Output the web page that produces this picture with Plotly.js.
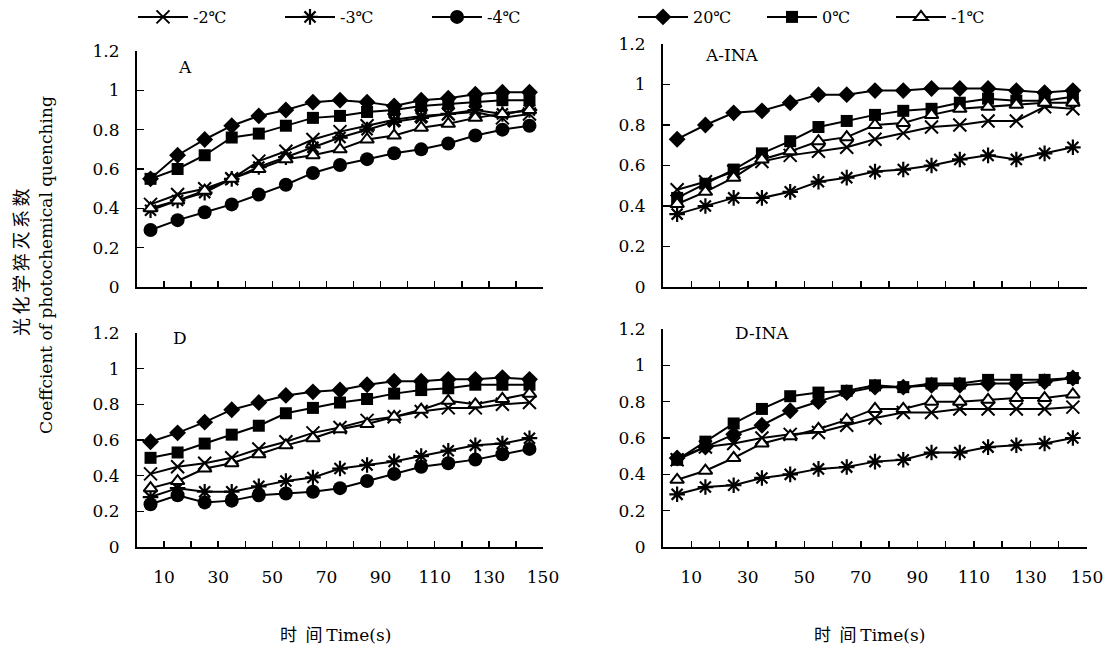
<!DOCTYPE html>
<html><head><meta charset="utf-8">
<script src="https://cdn.plot.ly/plotly-3.0.1.min.js"></script>
<style>body{margin:0;background:#fff}</style>
</head><body><div id="chart" style="width:1114px;height:648px"></div>
<script>
// ---- data ----
const time = [5, 15, 25, 35, 45, 55, 65, 75, 85, 95, 105, 115, 125, 135, 145];
const xTickVals = [10, 30, 50, 70, 90, 110, 130, 150];
const xTickLabels = ['10', '30', '50', '70', '90', '110', '130', '150'];
const seriesNames = ['-2℃', '-3℃', '-4℃', '20℃', '0℃', '-1℃'];
const panelLabels = ['A', 'A-INA', 'D', 'D-INA'];

// Panel A
const A_m2 = [0.42, 0.47, 0.50, 0.55, 0.64, 0.69, 0.75, 0.79, 0.82, 0.85, 0.87, 0.88, 0.89, 0.86, 0.88];
const A_m3 = [0.39, 0.44, 0.48, 0.55, 0.61, 0.66, 0.71, 0.76, 0.80, 0.84, 0.86, 0.88, 0.90, 0.88, 0.90];
const A_m4 = [0.29, 0.34, 0.38, 0.42, 0.47, 0.52, 0.58, 0.62, 0.65, 0.68, 0.70, 0.73, 0.77, 0.80, 0.82];
const A_20 = [0.55, 0.67, 0.75, 0.82, 0.87, 0.90, 0.94, 0.95, 0.94, 0.92, 0.95, 0.96, 0.98, 0.99, 0.99];
const A_0  = [0.55, 0.60, 0.67, 0.76, 0.78, 0.82, 0.86, 0.87, 0.89, 0.90, 0.92, 0.93, 0.94, 0.95, 0.95];
const A_m1 = [0.40, 0.44, 0.49, 0.55, 0.60, 0.65, 0.67, 0.70, 0.75, 0.77, 0.81, 0.83, 0.86, 0.88, 0.90];

// Panel A-INA
const AI_m2 = [0.48, 0.52, 0.57, 0.62, 0.65, 0.67, 0.69, 0.73, 0.76, 0.79, 0.80, 0.82, 0.82, 0.89, 0.88];
const AI_m3 = [0.36, 0.40, 0.44, 0.44, 0.47, 0.52, 0.54, 0.57, 0.58, 0.60, 0.63, 0.65, 0.63, 0.66, 0.69];
const AI_20 = [0.73, 0.80, 0.86, 0.87, 0.91, 0.95, 0.95, 0.97, 0.97, 0.98, 0.98, 0.98, 0.97, 0.96, 0.97];
const AI_0  = [0.44, 0.51, 0.58, 0.66, 0.72, 0.79, 0.82, 0.85, 0.87, 0.88, 0.91, 0.93, 0.92, 0.92, 0.94];
const AI_m1 = [0.41, 0.47, 0.54, 0.63, 0.67, 0.72, 0.74, 0.80, 0.81, 0.85, 0.88, 0.89, 0.90, 0.91, 0.91];

// Panel D
const D_m2 = [0.41, 0.45, 0.47, 0.50, 0.55, 0.59, 0.64, 0.67, 0.71, 0.73, 0.76, 0.78, 0.78, 0.80, 0.81];
const D_m3 = [0.28, 0.33, 0.31, 0.31, 0.34, 0.37, 0.39, 0.44, 0.46, 0.48, 0.51, 0.54, 0.57, 0.58, 0.61];
const D_m4 = [0.24, 0.29, 0.25, 0.26, 0.29, 0.30, 0.31, 0.33, 0.37, 0.41, 0.45, 0.47, 0.49, 0.52, 0.55];
const D_20 = [0.59, 0.64, 0.70, 0.77, 0.81, 0.85, 0.87, 0.88, 0.91, 0.93, 0.93, 0.94, 0.94, 0.95, 0.94];
const D_0  = [0.50, 0.53, 0.58, 0.63, 0.68, 0.75, 0.78, 0.81, 0.83, 0.86, 0.88, 0.89, 0.91, 0.91, 0.91];
const D_m1 = [0.33, 0.37, 0.44, 0.47, 0.52, 0.57, 0.61, 0.66, 0.69, 0.73, 0.77, 0.82, 0.80, 0.83, 0.86];

// Panel D-INA
const DI_m2 = [0.48, 0.55, 0.57, 0.60, 0.62, 0.63, 0.67, 0.71, 0.74, 0.74, 0.76, 0.76, 0.76, 0.76, 0.77];
const DI_m3 = [0.29, 0.33, 0.34, 0.38, 0.40, 0.43, 0.44, 0.47, 0.48, 0.52, 0.52, 0.55, 0.56, 0.57, 0.60];
const DI_20 = [0.49, 0.55, 0.62, 0.67, 0.75, 0.80, 0.85, 0.88, 0.88, 0.89, 0.89, 0.90, 0.90, 0.91, 0.93];
const DI_0  = [0.48, 0.58, 0.68, 0.76, 0.83, 0.85, 0.86, 0.89, 0.88, 0.90, 0.90, 0.92, 0.92, 0.92, 0.93];
const DI_m1 = [0.37, 0.42, 0.49, 0.57, 0.61, 0.65, 0.70, 0.76, 0.76, 0.80, 0.80, 0.81, 0.82, 0.82, 0.84];

// ---- styles ----
const markerStyle = {
  '-2℃': {symbol: 'x-thin', size: 13, color: '#000', line: {color: '#000', width: 2}},
  '-3℃': {symbol: 'asterisk', size: 13, color: '#000', line: {color: '#000', width: 2.2}},
  '-4℃': {symbol: 'circle', size: 14, color: '#000', line: {color: '#000', width: 0}},
  '20℃': {symbol: 'diamond', size: 13, color: '#000', line: {color: '#000', width: 0}},
  '0℃':  {symbol: 'square', size: 12, color: '#000', line: {color: '#000', width: 0}},
  '-1℃': {symbol: 'triangle-up', size: 12, color: '#fff', line: {color: '#000', width: 2}}
};
const legendOf = {'-2℃': 'legend', '-3℃': 'legend', '-4℃': 'legend', '20℃': 'legend2', '0℃': 'legend2', '-1℃': 'legend2'};

const panels = [
  {xa: 'x', ya: 'y', data: {'-2℃': A_m2, '-3℃': A_m3, '-4℃': A_m4, '20℃': A_20, '0℃': A_0, '-1℃': A_m1}},
  {xa: 'x2', ya: 'y2', data: {'-2℃': AI_m2, '-3℃': AI_m3, '20℃': AI_20, '0℃': AI_0, '-1℃': AI_m1}},
  {xa: 'x3', ya: 'y3', data: {'-2℃': D_m2, '-3℃': D_m3, '-4℃': D_m4, '20℃': D_20, '0℃': D_0, '-1℃': D_m1}},
  {xa: 'x4', ya: 'y4', data: {'-2℃': DI_m2, '-3℃': DI_m3, '20℃': DI_20, '0℃': DI_0, '-1℃': DI_m1}}
];

const traces = [];
const shown = {};
panels.forEach(p => {
  seriesNames.forEach(name => {
    if (!p.data[name]) return;
    traces.push({
      type: 'scatter', mode: 'lines+markers', name: name,
      x: time, y: p.data[name], xaxis: p.xa, yaxis: p.ya,
      line: {color: '#000', width: 2},
      marker: markerStyle[name],
      legend: legendOf[name],
      showlegend: !shown[name], cliponaxis: false
    });
    shown[name] = true;
  });
});

const FONT = 'DejaVu Serif, Noto Sans CJK SC, serif';
const CJK = 'Noto Sans CJK SC, DejaVu Serif, sans-serif';
function xax(domain, labels) {
  const vals = [];
  for (let v = 10; v <= 150; v += 10) vals.push(v);
  return {
    domain: domain, range: [0, 150], showgrid: false, zeroline: false,
    showline: true, linecolor: '#000', linewidth: 2,
    ticks: 'inside', ticklen: 6, tickwidth: 1.5, tickcolor: '#000',
    tickvals: vals,
    ticktext: labels ? vals.map(v => { const i = xTickVals.indexOf(v); return i >= 0 ? xTickLabels[i] : ''; }) : vals.map(() => ''),
    showticklabels: !!labels, ticklabelstandoff: 14,
    tickfont: {family: FONT, size: 17, color: '#000'}, fixedrange: true
  };
}
function yax(domain, anchor) {
  return {
    domain: domain, anchor: anchor, range: [0, 1.2], dtick: 0.2, tick0: 0,
    showgrid: false, zeroline: false, showline: true, linecolor: '#000', linewidth: 2,
    ticks: 'inside', ticklen: 7, tickwidth: 1.5, tickcolor: '#000',
    ticklabelstandoff: 12,
    tickfont: {family: FONT, size: 17, color: '#000'}, fixedrange: true
  };
}

const W = 1114, H = 648;
const px = (a, b) => [a / W, b / W];
const py = (top, bottom) => [1 - bottom / H, 1 - top / H];

const annFont = (f) => Object.assign({family: FONT, size: 17, color: '#000'}, f || {});
const layout = {
  width: W, height: H, paper_bgcolor: '#fff', plot_bgcolor: '#fff',
  margin: {l: 0, r: 0, t: 0, b: 0, autoexpand: false},
  font: {family: FONT, color: '#000', size: 17},
  xaxis: Object.assign(xax(px(137, 543), false), {anchor: 'y'}),
  yaxis: yax(py(51, 287), 'x'),
  xaxis2: Object.assign(xax(px(663, 1087), false), {anchor: 'y2'}),
  yaxis2: yax(py(44, 287), 'x2'),
  xaxis3: Object.assign(xax(px(137, 543), true), {anchor: 'y3'}),
  yaxis3: yax(py(333, 547), 'x3'),
  xaxis4: Object.assign(xax(px(663, 1087), true), {anchor: 'y4'}),
  yaxis4: yax(py(329, 547), 'x4'),
  legend: {orientation: 'h', x: 133 / W, xanchor: 'left', y: 1, yanchor: 'top',
           entrywidth: 82, entrywidthmode: 'pixels', itemwidth: 50,
           font: {family: FONT, size: 16, color: '#000'}, bgcolor: 'rgba(0,0,0,0)', traceorder: 'normal'},
  legend2: {orientation: 'h', x: 633 / W, xanchor: 'left', y: 1, yanchor: 'top',
           entrywidth: 64, entrywidthmode: 'pixels', itemwidth: 50,
           font: {family: FONT, size: 16, color: '#000'}, bgcolor: 'rgba(0,0,0,0)', traceorder: 'normal'},
  annotations: [
    {text: panelLabels[0], x: 185 / W, y: 1 - 67 / H},
    {text: panelLabels[1], x: 732 / W, y: 1 - 55 / H},
    {text: panelLabels[2], x: 180 / W, y: 1 - 338 / H},
    {text: panelLabels[3], x: 762 / W, y: 1 - 333 / H},
    {text: '光\u2009化\u2009学\u2009猝\u2009灭\u2009系\u2009数', x: 20 / W, y: 1 - 262 / H, textangle: -90, font: {family: CJK, size: 18}},
    {text: 'Coeffcient of photochemical quenching', x: 46 / W, y: 1 - 265 / H, textangle: -90, font: {size: 17}},
    {text: '时\u2002间 <span style="font-family:DejaVu Serif">Time(s)</span>', x: 335 / W, y: 1 - 633 / H, font: {family: CJK, size: 17}},
    {text: '时\u2002间 <span style="font-family:DejaVu Serif">Time(s)</span>', x: 869 / W, y: 1 - 633 / H, font: {family: CJK, size: 17}}
  ].map(a => Object.assign({xref: 'paper', yref: 'paper', showarrow: false, xanchor: 'center', yanchor: 'middle'}, a, {font: annFont(a.font)}))
};

Plotly.newPlot('chart', traces, layout, {displayModeBar: false, staticPlot: true});
</script></body></html>
